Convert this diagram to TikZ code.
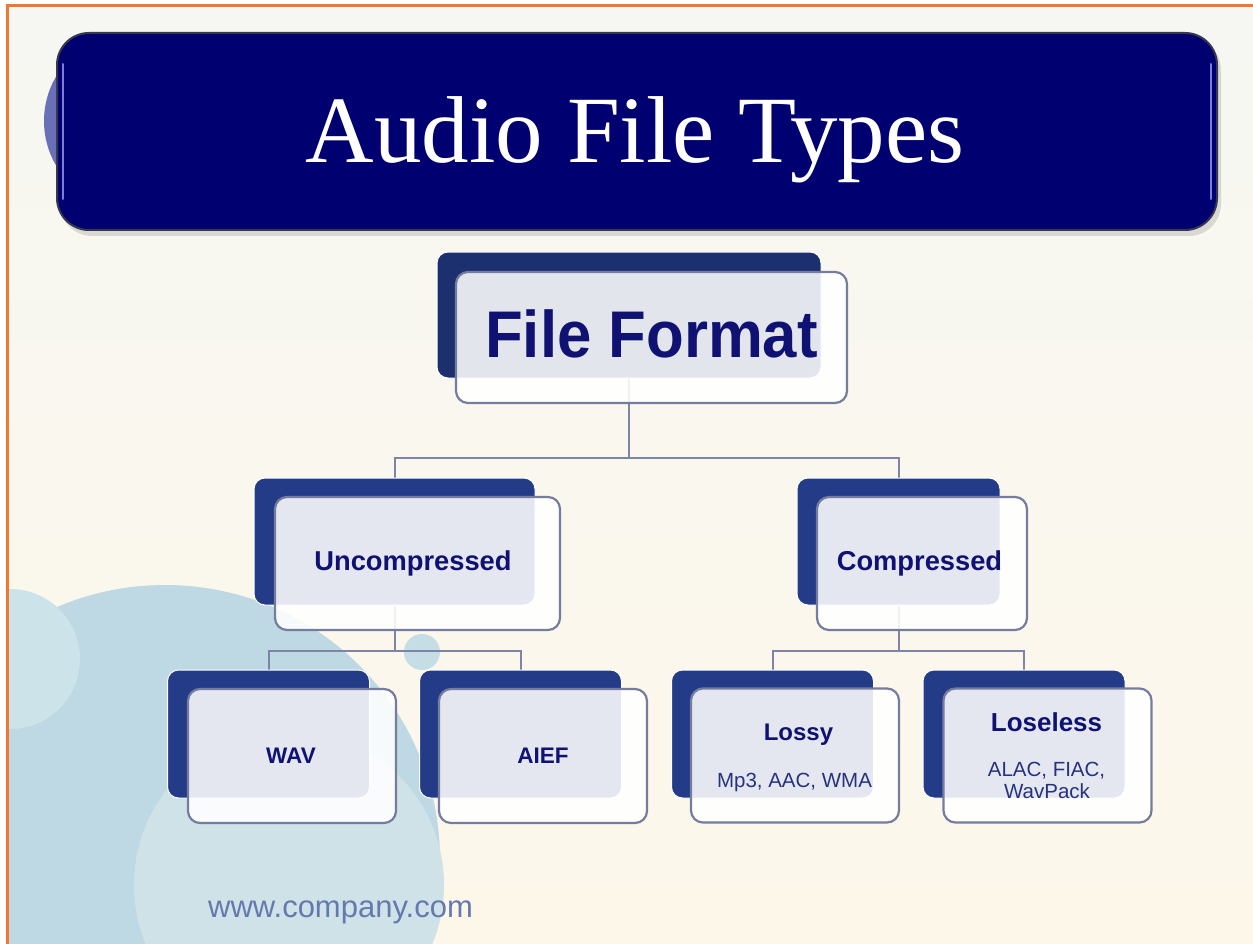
\documentclass[tikz,border=0pt]{standalone}
\usepackage{fontspec}
\setmainfont{Liberation Sans}
\newfontfamily\titlefont{Liberation Serif}
\usetikzlibrary{calc}
\definecolor{bannernavy}{RGB}{0,0,112}
\definecolor{bannerline}{RGB}{55,55,80}
\definecolor{bannercirc}{RGB}{106,112,184}
\definecolor{bannerhl}{RGB}{125,125,215}
\definecolor{backdark}{RGB}{28,47,110}
\definecolor{backmid}{RGB}{36,60,135}
\definecolor{boxline}{RGB}{118,124,158}
\definecolor{connc}{RGB}{125,132,166}
\definecolor{txtnavy}{RGB}{16,18,115}
\definecolor{txtsub}{RGB}{38,50,125}
\definecolor{webtxt}{RGB}{100,122,175}
\definecolor{orangeline}{RGB}{240,120,50}
\definecolor{bgtop}{RGB}{246,247,242}
\definecolor{bgbot}{RGB}{253,247,234}
\definecolor{circmid}{RGB}{190,217,227}
\definecolor{circlight}{RGB}{207,226,231}
\definecolor{circleft}{RGB}{205,227,234}
\definecolor{circsmall}{RGB}{197,221,229}
\pgfdeclarelayer{bg}
\pgfsetlayers{bg,main}
\begin{document}
\begin{tikzpicture}[x=1pt,y=-1pt,
  backbox/.style={draw=white, line width=1pt, fill=#1, rounded corners=11pt, inner sep=0pt},
  frontbox/.style={draw=boxline, line width=2.2pt, fill=white, fill opacity=0.88, rounded corners=12pt, inner sep=0pt},
  banner/.style={draw=bannerline, line width=2pt, fill=bannernavy, rounded corners=32pt, inner sep=0pt},
  hl/.style={draw=bannerhl, line width=2pt, line cap=round},
  conn/.style={draw=connc, line width=2pt},
  boldtxt/.style={text=txtnavy, inner sep=0pt, anchor=base, font=\bfseries\fontsize{#1}{#1}\selectfont},
  subtxt/.style={text=txtsub, inner sep=0pt, anchor=base, font=\fontsize{20.5}{20.5}\selectfont},
  leafback/.style={backbox=backmid, minimum width=202pt, minimum height=128pt},
  leaffront/.style={frontbox, minimum width=208pt, minimum height=134pt}
]
\useasboundingbox (0,0) rectangle (1253,944);
\begin{pgfonlayer}{bg}
  \fill[white] (0,0) rectangle (1253,944);
  \shade[top color=bgtop, bottom color=bgbot] (7,6) rectangle (1253,944);
  \begin{scope}
    \clip (7,6) rectangle (1253,944);
    \fill[circmid] (165,860) circle[radius=275];
    \fill[circlight] (289,885) circle[radius=155];
    \fill[circleft] (10,659) circle[radius=70];
    \fill[circsmall] (422,652) circle[radius=18];
  \end{scope}
  \draw[orangeline, line width=3pt] (7,944) -- (7,6) -- (1253,6);
  % title banner
  \fill[bannercirc] (132,121) circle[radius=88];
  \fill[black, opacity=0.12, rounded corners=32pt] (60,38) rectangle (1221,236);
\end{pgfonlayer}

\node[banner, minimum width=1160pt, minimum height=197pt] (banner) at (637,131.5) {};
\draw[hl] ([xshift=7pt,yshift=-32pt]banner.north west) -- ([xshift=7pt,yshift=32pt]banner.south west);
\draw[hl] ([xshift=-7pt,yshift=-32pt]banner.north east) -- ([xshift=-7pt,yshift=32pt]banner.south east);
\node[text=white, inner sep=0pt, anchor=base, font=\titlefont\fontsize{95}{95}\selectfont] (title) at (635,163) {Audio File Types};

% level 0
\node[backbox=backdark, minimum width=384pt, minimum height=126pt] (ffb) at (629,315) {};
\node[frontbox, minimum width=391pt, minimum height=131pt] (fff) at (651.5,337.5) {};
\node[boldtxt=66] (fft) at (651.5,357) {\scalebox{0.935}[1]{File Format}};

% level 1
\node[backbox=backmid, minimum width=281pt, minimum height=127pt] (uncb) at (394.5,541.5) {};
\node[frontbox, minimum width=285pt, minimum height=133pt] (uncf) at (417.5,563.5) {};
\node[boldtxt=27.3] (unct) at (413,570) {Uncompressed};

\node[backbox=backmid, minimum width=203pt, minimum height=127pt] (compb) at (898.5,541.5) {};
\node[frontbox, minimum width=210pt, minimum height=133pt] (compf) at (922,563.5) {};
\node[boldtxt=27.3] (compt) at (919.5,570) {Compressed};

% level 2
\node[leafback] (wavb) at (268.5,734) {};
\node[leaffront] (wavf) at (292,756) {};
\node[boldtxt=22.5] (wavt) at (291,763) {WAV};

\node[leafback] (aiefb) at (520.5,734) {};
\node[leaffront] (aieff) at (543,756) {};
\node[boldtxt=22.5] (aieft) at (543,763) {AIEF};

\node[leafback] (lossyb) at (772.5,734) {};
\node[leaffront] (lossyf) at (795,755.5) {};
\node[boldtxt=24] (lossyt) at (798.5,740) {Lossy};
\node[subtxt] (lossys) at (794.5,787) {Mp3, AAC, WMA};

\node[leafback] (loslb) at (1024,734) {};
\node[leaffront] (loslf) at (1047.5,755.5) {};
\node[boldtxt=26] (loslt) at (1046.5,731) {Loseless};
\node[subtxt] (losls1) at (1046.5,776) {ALAC, FIAC,};
\node[subtxt] (losls2) at (1047,798) {WavPack};

\node[text=webtxt, inner sep=0pt, anchor=base west, font=\fontsize{31}{31}\selectfont] (web) at (208,917) {www.company.com};

% connectors (behind the boxes)
\begin{pgfonlayer}{bg}
  \draw[conn] (ffb.south) -- (ffb.south |- 0,458) coordinate (ffbus) -| (uncb.north);
  \draw[conn] (ffbus) -| (compb.north);
  \draw[conn] (uncb.south) -- (uncb.south |- 0,651) coordinate (uncbus) -| (wavb.north);
  \draw[conn] (uncbus) -| (aiefb.north);
  \draw[conn] (compb.south) -- (compb.south |- 0,651) coordinate (compbus) -| (lossyb.north);
  \draw[conn] (compbus) -| (loslb.north);
\end{pgfonlayer}
\end{tikzpicture}
\end{document}
